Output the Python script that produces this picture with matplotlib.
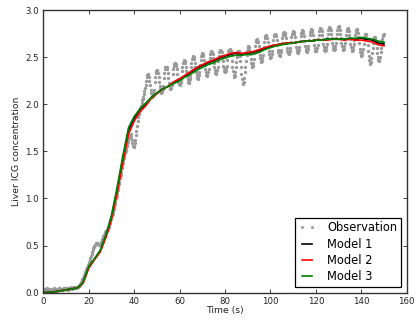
import numpy as np
import matplotlib
matplotlib.use("Agg")
import matplotlib.pyplot as plt

# ---- data ----
obs_step = 0.25  # seconds between observation samples
obs_values = [
    # 0 - 4.75
    0.02, 0.03, 0.04, 0.035, 0.03, 0.04, 0.05, 0.035, 0.02, 0.025, 0.03, 0.035, 0.04, 0.03, 0.02, 0.025, 0.03, 0.04, 0.05, 0.04,
    # 5 - 9.75
    0.03, 0.035, 0.04, 0.03, 0.02, 0.03, 0.04, 0.045, 0.05, 0.04, 0.03, 0.035, 0.04, 0.035, 0.03, 0.04, 0.05, 0.045, 0.04, 0.04,
    # 10 - 14.75
    0.04, 0.045, 0.05, 0.04, 0.03, 0.04, 0.05, 0.055, 0.06, 0.05, 0.04, 0.045, 0.05, 0.055, 0.06, 0.055, 0.05, 0.055, 0.06, 0.06,
    # 15 - 19.75
    0.06, 0.065, 0.07, 0.075, 0.08, 0.09, 0.10, 0.115, 0.13, 0.145, 0.16, 0.175, 0.19, 0.205, 0.22, 0.235, 0.25, 0.265, 0.28, 0.295,
    # 20 - 24.75
    0.31, 0.33, 0.35, 0.37, 0.39, 0.41, 0.43, 0.45, 0.47, 0.485, 0.50, 0.51, 0.52, 0.525, 0.53, 0.525, 0.52, 0.515, 0.51, 0.515,
    # 25 - 29.75
    0.52, 0.53, 0.54, 0.555, 0.57, 0.585, 0.60, 0.615, 0.63, 0.64, 0.65, 0.655, 0.66, 0.67, 0.68, 0.70, 0.72, 0.74, 0.76, 0.78,
    # 30 - 34.75
    0.80, 0.82, 0.84, 0.865, 0.89, 0.915, 0.94, 0.97, 1.00, 1.03, 1.06, 1.09, 1.12, 1.15, 1.18, 1.215, 1.25, 1.285, 1.32, 1.35,
    # 35 - 39.75
    1.38, 1.405, 1.43, 1.455, 1.48, 1.505, 1.53, 1.555, 1.58, 1.60, 1.62, 1.64, 1.66, 1.67, 1.68, 1.65, 1.62, 1.59, 1.56, 1.555,
    # 40 - 44.75
    1.55, 1.585, 1.62, 1.67, 1.72, 1.77, 1.82, 1.86, 1.90, 1.92, 1.94, 1.96, 1.98, 2.01, 2.04, 2.06, 2.08, 2.11, 2.14, 2.17,
    # 45 - 48.75
    2.20, 2.25, 2.29, 2.31, 2.32, 2.31, 2.29, 2.25, 2.20, 2.15, 2.12, 2.09, 2.08, 2.09, 2.12, 2.15,
    # 49 - 52.75
    2.24, 2.29, 2.33, 2.35, 2.36, 2.35, 2.33, 2.29, 2.24, 2.19, 2.16, 2.13, 2.12, 2.13, 2.16, 2.19,
    # 53 - 56.75
    2.28, 2.33, 2.37, 2.39, 2.40, 2.39, 2.37, 2.33, 2.28, 2.23, 2.20, 2.17, 2.16, 2.17, 2.20, 2.23,
    # 57 - 60.75
    2.32, 2.37, 2.41, 2.43, 2.44, 2.43, 2.41, 2.37, 2.32, 2.27, 2.24, 2.21, 2.20, 2.21, 2.24, 2.27,
    # 61 - 64.75
    2.35, 2.40, 2.44, 2.46, 2.47, 2.46, 2.44, 2.40, 2.35, 2.30, 2.27, 2.24, 2.23, 2.24, 2.27, 2.30,
    # 65 - 68.75
    2.39, 2.44, 2.48, 2.50, 2.51, 2.50, 2.48, 2.44, 2.39, 2.34, 2.31, 2.28, 2.27, 2.28, 2.31, 2.34,
    # 69 - 72.75
    2.42, 2.47, 2.51, 2.53, 2.54, 2.53, 2.51, 2.47, 2.42, 2.37, 2.34, 2.31, 2.30, 2.31, 2.34, 2.37,
    # 73 - 76.75
    2.44, 2.49, 2.53, 2.55, 2.56, 2.55, 2.53, 2.49, 2.44, 2.39, 2.36, 2.33, 2.32, 2.33, 2.36, 2.39,
    # 77 - 80.75
    2.46, 2.51, 2.55, 2.57, 2.58, 2.57, 2.55, 2.51, 2.46, 2.41, 2.38, 2.35, 2.34, 2.35, 2.38, 2.41,
    # 81 - 84.75
    2.47, 2.52, 2.56, 2.58, 2.59, 2.58, 2.56, 2.52, 2.46, 2.40, 2.35, 2.31, 2.29, 2.30, 2.34, 2.39,
    # 85 - 88.75
    2.45, 2.50, 2.54, 2.56, 2.57, 2.55, 2.51, 2.46, 2.39, 2.32, 2.27, 2.23, 2.22, 2.24, 2.28, 2.34,
    # 89 - 92.75
    2.40, 2.46, 2.52, 2.57, 2.60, 2.62, 2.61, 2.58, 2.53, 2.48, 2.44, 2.41, 2.40, 2.41, 2.44, 2.48,
    # 93 - 96.75
    2.57, 2.62, 2.66, 2.68, 2.69, 2.68, 2.66, 2.62, 2.57, 2.52, 2.49, 2.46, 2.45, 2.46, 2.49, 2.52,
    # 97 - 100.75
    2.61, 2.66, 2.70, 2.72, 2.73, 2.72, 2.70, 2.66, 2.61, 2.56, 2.53, 2.50, 2.49, 2.50, 2.53, 2.56,
    # 101 - 104.75
    2.63, 2.68, 2.72, 2.74, 2.75, 2.74, 2.72, 2.68, 2.63, 2.58, 2.55, 2.52, 2.51, 2.52, 2.55, 2.58,
    # 105 - 108.75
    2.65, 2.70, 2.74, 2.76, 2.77, 2.76, 2.74, 2.70, 2.65, 2.60, 2.57, 2.54, 2.53, 2.54, 2.57, 2.60,
    # 109 - 112.75
    2.66, 2.71, 2.75, 2.77, 2.78, 2.77, 2.75, 2.71, 2.66, 2.61, 2.58, 2.55, 2.54, 2.55, 2.58, 2.61,
    # 113 - 116.75
    2.67, 2.72, 2.76, 2.78, 2.79, 2.78, 2.76, 2.72, 2.67, 2.62, 2.59, 2.56, 2.55, 2.56, 2.59, 2.62,
    # 117 - 120.75
    2.68, 2.73, 2.77, 2.79, 2.80, 2.79, 2.77, 2.73, 2.68, 2.63, 2.60, 2.57, 2.56, 2.57, 2.60, 2.63,
    # 121 - 124.75
    2.69, 2.74, 2.78, 2.80, 2.81, 2.80, 2.78, 2.74, 2.69, 2.64, 2.61, 2.58, 2.57, 2.58, 2.61, 2.64,
    # 125 - 128.75
    2.70, 2.75, 2.79, 2.81, 2.82, 2.81, 2.79, 2.75, 2.70, 2.65, 2.62, 2.59, 2.58, 2.59, 2.62, 2.65,
    # 129 - 132.75
    2.70, 2.75, 2.79, 2.82, 2.83, 2.82, 2.79, 2.75, 2.70, 2.65, 2.62, 2.59, 2.58, 2.59, 2.62, 2.65,
    # 133 - 136.75
    2.69, 2.74, 2.78, 2.80, 2.81, 2.80, 2.78, 2.74, 2.69, 2.64, 2.61, 2.58, 2.57, 2.58, 2.61, 2.64,
    # 137 - 140.75
    2.68, 2.73, 2.77, 2.79, 2.80, 2.79, 2.76, 2.71, 2.65, 2.59, 2.55, 2.52, 2.51, 2.52, 2.55, 2.59,
    # 141 - 144.75
    2.64, 2.69, 2.73, 2.75, 2.75, 2.73, 2.69, 2.63, 2.57, 2.51, 2.47, 2.44, 2.43, 2.45, 2.49, 2.54,
    # 145 - 148.75
    2.60, 2.65, 2.69, 2.71, 2.71, 2.69, 2.65, 2.60, 2.54, 2.50, 2.47, 2.46, 2.47, 2.50, 2.55, 2.60,
    # 149 - 150
    2.65, 2.69, 2.72, 2.74, 2.75,
]
obs_time = np.arange(len(obs_values)) * obs_step

model_time = np.arange(0, 150.01, 2.5)
model1 = [
    0.00, 0.005, 0.01, 0.02, 0.03, 0.04, 0.05, 0.105, 0.27, 0.355,
    0.44, 0.60, 0.80, 1.09, 1.42, 1.72, 1.85, 1.94, 2.00, 2.07,
    2.12, 2.16, 2.19, 2.23, 2.26, 2.30, 2.34, 2.38, 2.41, 2.44,
    2.46, 2.49, 2.51, 2.53, 2.54, 2.53, 2.54, 2.55, 2.57, 2.59,
    2.61, 2.63, 2.64, 2.65, 2.65, 2.66, 2.67, 2.67, 2.68, 2.68,
    2.69, 2.69, 2.69, 2.69, 2.70, 2.69, 2.70, 2.69, 2.68, 2.65, 2.64,
]
model2 = [
    0.00, 0.005, 0.01, 0.02, 0.03, 0.04, 0.05, 0.10, 0.26, 0.35,
    0.43, 0.58, 0.78, 1.06, 1.38, 1.68, 1.82, 1.92, 1.98, 2.06,
    2.11, 2.16, 2.19, 2.24, 2.27, 2.31, 2.35, 2.39, 2.42, 2.45,
    2.47, 2.50, 2.52, 2.54, 2.55, 2.54, 2.55, 2.56, 2.58, 2.60,
    2.62, 2.63, 2.64, 2.65, 2.65, 2.66, 2.67, 2.67, 2.68, 2.68,
    2.68, 2.69, 2.69, 2.68, 2.69, 2.68, 2.68, 2.67, 2.66, 2.63, 2.62,
]
model3 = [
    0.00, 0.005, 0.01, 0.02, 0.03, 0.04, 0.05, 0.11, 0.28, 0.36,
    0.45, 0.61, 0.82, 1.12, 1.45, 1.75, 1.87, 1.95, 2.01, 2.07,
    2.12, 2.16, 2.19, 2.22, 2.25, 2.29, 2.32, 2.36, 2.39, 2.42,
    2.44, 2.47, 2.49, 2.51, 2.52, 2.52, 2.53, 2.53, 2.55, 2.58,
    2.60, 2.62, 2.63, 2.64, 2.65, 2.66, 2.67, 2.67, 2.68, 2.68,
    2.69, 2.69, 2.69, 2.69, 2.70, 2.70, 2.71, 2.70, 2.69, 2.67, 2.66,
]

labels = ["Observation", "Model 1", "Model 2", "Model 3"]
xticks = [0, 20, 40, 60, 80, 100, 120, 140, 160]
yticks = [0.0, 0.5, 1.0, 1.5, 2.0, 2.5, 3.0]

# ---- plot ----
plt.rcParams['font.family'] = ['DejaVu Sans']
fig = plt.figure(figsize=(4.16, 3.2), dpi=100)
fig.patch.set_facecolor('white')
ax = fig.add_axes([43.3 / 416, 27.3 / 320, 363.4 / 416, 282.7 / 320])

ax.plot(obs_time, obs_values, linestyle='none', marker='o', markersize=2.4,
        markeredgewidth=0, color='#9a9a9a', label=labels[0])
ax.plot(model_time, model1, color='black', lw=1.2, label=labels[1])
ax.plot(model_time, model2, color='red', lw=1.2, label=labels[2])
ax.plot(model_time, model3, color='green', lw=1.2, label=labels[3])

ax.set_xlim(0, 160)
ax.set_ylim(0, 3.0)
ax.set_xticks(xticks)
ax.set_yticks(yticks)
ax.set_xticklabels([str(v) for v in xticks])
ax.set_yticklabels([f"{v:.1f}" for v in yticks])
ax.tick_params(direction='in', top=True, right=True, length=3, width=0.6,
               labelsize=6.2, colors='#222222', pad=3)
for s in ax.spines.values():
    s.set_linewidth(1.0)
    s.set_color('#333333')

ax.set_xlabel("Time (s)", fontsize=6.7, labelpad=0, color='#222222')
ax.set_ylabel("Liver ICG concentration", fontsize=6.7, labelpad=3, color='#222222')

leg = ax.legend(loc='lower right', fontsize=8.3, numpoints=2, handlelength=1.5,
                fancybox=False, framealpha=1, edgecolor='black',
                borderaxespad=0.5, labelspacing=0.3, handletextpad=1.0,
                borderpad=0.3, markerscale=0.9)
leg.get_frame().set_linewidth(0.9)

fig.savefig("out.png", dpi=100, facecolor='white')
